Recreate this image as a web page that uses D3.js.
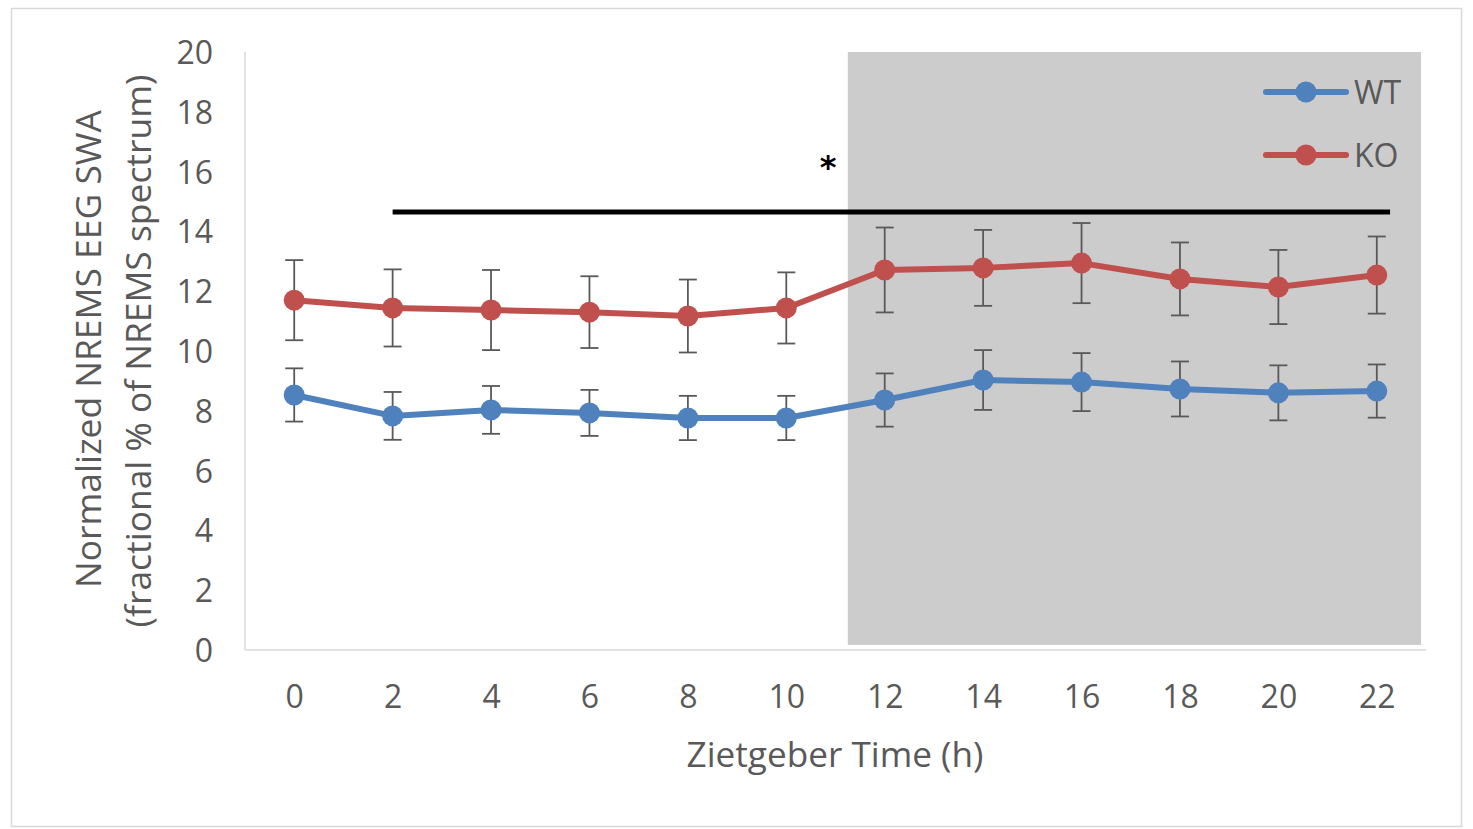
<!DOCTYPE html>
<html>
<head>
<meta charset="utf-8">
<script src="https://cdn.jsdelivr.net/npm/d3@7"></script>
<style>
  body { margin: 0; background: #fff; }
  text { font-family: "Open Sans", sans-serif; }
</style>
</head>
<body>
<div id="chart"></div>
<script>
// data
var zt = [0, 2, 4, 6, 8, 10, 12, 14, 16, 18, 20, 22];
var wtMean = [8.53, 7.83, 8.03, 7.93, 7.76, 7.76, 8.36, 9.03, 8.96, 8.73, 8.6, 8.66];
var wtErr  = [0.89, 0.8, 0.8, 0.77, 0.74, 0.74, 0.89, 1.0, 0.97, 0.92, 0.92, 0.89];
var koMean = [11.7, 11.44, 11.37, 11.3, 11.17, 11.44, 12.71, 12.78, 12.94, 12.41, 12.14, 12.54];
var koErr  = [1.34, 1.29, 1.34, 1.2, 1.22, 1.19, 1.42, 1.27, 1.34, 1.22, 1.24, 1.29];
var yTicks = [0, 2, 4, 6, 8, 10, 12, 14, 16, 18, 20];
var darkPhase = [11.25, 22.9];   // ZT range of the grey band
var sigBar = [2, 22.27, 14.65];  // from ZT, to ZT, at value

var W = 1473, H = 829;
var margin = {top: 52, right: 47, bottom: 179, left: 245},
  width = W - margin.left - margin.right,
  height = H - margin.top - margin.bottom;

var svg = d3.select("#chart")
.append("svg")
  .attr("width", W)
  .attr("height", H);

// outer frame
svg.append("rect")
  .attr("x", 11.5).attr("y", 8.5)
  .attr("width", 1450).attr("height", 818)
  .style("fill", "none").style("stroke", "#d9d9d9").style("stroke-width", 1.5);

var g = svg.append("g")
  .attr("transform", "translate(" + margin.left + "," + margin.top + ")");

var x = d3.scalePoint().domain(zt).range([0, width]).padding(0.5);
var xz = d3.scaleLinear().domain([0, 22]).range([x(0), x(22)]);
var y = d3.scaleLinear().domain([0, 20]).range([height, 0]);

var blue = "#4f81bd", red = "#c0504d", grey = "#595959";

// grey dark phase
g.append("rect")
  .attr("x", xz(darkPhase[0]))
  .attr("y", y(20))
  .attr("width", xz(darkPhase[1]) - xz(darkPhase[0]))
  .attr("height", y(0.17) - y(20))
  .style("fill", "#cccccc");

// axes
var yAxis = g.append("g").call(d3.axisLeft(y).tickValues(yTicks).tickSize(0).tickPadding(32));
var xAxis = g.append("g").attr("transform", "translate(0," + height + ")")
  .call(d3.axisBottom(x).tickSize(0).tickPadding(35));
[yAxis, xAxis].forEach(function(a) {
  a.select(".domain").style("stroke", "#d9d9d9").style("stroke-width", 1.5);
  a.selectAll("text").style("font-size", "32px").style("fill", grey)
    .style("font-family", "'Open Sans', sans-serif");
});
yAxis.selectAll("text").attr("dy", "0.36em");
xAxis.select(".domain").attr("d", "M0,0H" + width);
yAxis.select(".domain").attr("d", "M0," + height + "V0");

// significance bar + star
g.append("line")
  .attr("x1", xz(sigBar[0])).attr("x2", xz(sigBar[1]))
  .attr("y1", y(sigBar[2])).attr("y2", y(sigBar[2]))
  .style("stroke", "#000").style("stroke-width", 5);
g.append("text")
  .attr("x", xz(10.85)).attr("y", y(15.8))
  .attr("text-anchor", "middle")
  .style("font-size", "32px").style("font-weight", "bold")
  .style("font-family", "'DejaVu Sans', sans-serif")
  .text("*");

var series = [
  {name: "WT", mean: wtMean, err: wtErr, color: blue},
  {name: "KO", mean: koMean, err: koErr, color: red}
];

var line = d3.line().x(function(d) { return x(d.zt); }).y(function(d) { return y(d.v); });

series.forEach(function(s) {
  var pts = zt.map(function(t, i) { return {zt: t, v: s.mean[i], e: s.err[i]}; });
  // error bars
  var eb = g.append("g").selectAll("g").data(pts).enter().append("g")
    .style("stroke", grey).style("stroke-width", 1.8);
  eb.append("line")
    .attr("x1", function(d) { return x(d.zt); }).attr("x2", function(d) { return x(d.zt); })
    .attr("y1", function(d) { return y(d.v + d.e); }).attr("y2", function(d) { return y(d.v - d.e); });
  eb.append("line")
    .attr("x1", function(d) { return x(d.zt) - 9; }).attr("x2", function(d) { return x(d.zt) + 9; })
    .attr("y1", function(d) { return y(d.v + d.e); }).attr("y2", function(d) { return y(d.v + d.e); });
  eb.append("line")
    .attr("x1", function(d) { return x(d.zt) - 9; }).attr("x2", function(d) { return x(d.zt) + 9; })
    .attr("y1", function(d) { return y(d.v - d.e); }).attr("y2", function(d) { return y(d.v - d.e); });
  g.append("path").datum(pts)
    .attr("d", line)
    .style("fill", "none").style("stroke", s.color).style("stroke-width", 6)
    .style("stroke-linejoin", "round");
  g.selectAll(null).data(pts).enter().append("circle")
    .attr("cx", function(d) { return x(d.zt); })
    .attr("cy", function(d) { return y(d.v); })
    .attr("r", 10.5)
    .style("fill", s.color);
});

// legend
var leg = svg.append("g").selectAll("g").data(series).enter().append("g")
  .attr("transform", function(d, i) { return "translate(1266," + (92 + i * 63) + ")"; });
leg.append("line").attr("x1", 0).attr("x2", 80)
  .style("stroke", function(d) { return d.color; }).style("stroke-width", 6)
  .style("stroke-linecap", "round");
leg.append("circle").attr("cx", 40).attr("r", 10.5).style("fill", function(d) { return d.color; });
leg.append("text").attr("x", 88).attr("dy", "0.36em")
  .style("font-size", "32px").style("fill", grey)
  .text(function(d) { return d.name; });

// axis titles (font size fitted to the reference text widths)
function fit(sel, target) {
  var w = sel.node().getComputedTextLength();
  var fs = parseFloat(sel.style("font-size"));
  sel.style("font-size", (fs * target / w) + "px");
}

var xt = svg.append("text")
  .attr("x", 835).attr("y", 767)
  .attr("text-anchor", "middle")
  .style("font-size", "32px").style("fill", grey)
  .text("Zietgeber Time (h)");
fit(xt, 297);

var l1 = svg.append("text")
  .attr("transform", "translate(101,349) rotate(-90)")
  .attr("text-anchor", "middle")
  .style("font-size", "32px").style("fill", grey)
  .text("Normalized NREMS EEG SWA");
fit(l1, 478);
var l2 = svg.append("text")
  .attr("transform", "translate(151,351) rotate(-90)")
  .attr("text-anchor", "middle")
  .style("font-size", "32px").style("fill", grey)
  .text("(fractional % of NREMS spectrum)");
fit(l2, 553);
</script>
</body>
</html>
